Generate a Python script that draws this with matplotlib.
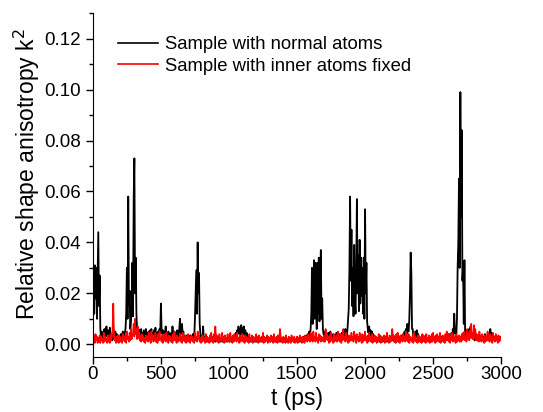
import numpy as np
import matplotlib
matplotlib.use("Agg")
import matplotlib.pyplot as plt
from matplotlib.ticker import MultipleLocator, FormatStrFormatter

# values in units of 1e-4, sampled every 5 ps from 0 to 3000 ps (one row = 100 ps)
normal_atoms = [
    50, 200, 120, 310, 180, 300, 100, 280, 440, 150, 270, 60, 30, 50, 20, 45, 30, 60, 25, 50,
    70, 30, 55, 20, 45, 65, 25, 40, 15, 35, 60, 20, 30, 50, 25, 40, 20, 35, 15, 30,
    25, 40, 15, 35, 50, 20, 30, 45, 60, 120, 300, 100, 580, 150, 210, 60, 90, 150, 320, 110,
    570, 730, 200, 340, 120, 60, 40, 60, 30, 55, 35, 60, 25, 45, 30, 55, 20, 40, 60, 30,
    45, 25, 50, 30, 55, 35, 60, 25, 45, 30, 55, 40, 65, 30, 45, 25, 50, 35, 60, 45,
    160, 60, 40, 55, 30, 50, 35, 70, 30, 45, 25, 50, 35, 40, 25, 45, 30, 70, 35, 40,
    50, 30, 45, 25, 55, 30, 45, 60, 100, 40, 60, 80, 35, 50, 20, 30, 15, 25, 35, 20,
    30, 15, 25, 35, 20, 30, 15, 40, 25, 30, 100, 200, 290, 120, 400, 200, 280, 80, 40, 20,
    30, 15, 70, 25, 20, 30, 15, 25, 10, 20, 15, 25, 10, 20, 15, 20, 10, 25, 15, 20,
    10, 20, 15, 25, 10, 20, 15, 10, 25, 15, 20, 10, 15, 25, 10, 20, 15, 10, 20, 15,
    20, 10, 25, 15, 20, 30, 15, 25, 35, 20, 45, 30, 55, 40, 70, 45, 60, 35, 75, 50,
    65, 40, 70, 35, 55, 30, 45, 20, 30, 15, 20, 10, 25, 15, 10, 20, 15, 10, 20, 15,
    10, 20, 15, 25, 10, 15, 20, 10, 15, 25, 10, 20, 15, 10, 20, 15, 25, 10, 15, 20,
    15, 10, 20, 15, 25, 10, 20, 15, 10, 20, 15, 25, 10, 15, 20, 10, 20, 15, 10, 25,
    15, 20, 10, 15, 25, 10, 20, 15, 10, 20, 15, 10, 25, 15, 20, 10, 15, 20, 10, 15,
    20, 15, 25, 10, 20, 15, 10, 25, 15, 20, 30, 15, 25, 20, 35, 25, 40, 30, 50, 35,
    60, 120, 300, 80, 220, 330, 100, 320, 150, 60, 320, 120, 340, 90, 250, 370, 100, 180, 60, 40,
    30, 50, 25, 40, 20, 35, 45, 25, 30, 50, 20, 35, 25, 40, 30, 20, 35, 25, 45, 30,
    20, 35, 25, 40, 30, 20, 45, 30, 25, 50, 35, 60, 40, 30, 55, 100, 140, 300, 580, 250,
    450, 150, 300, 110, 390, 180, 120, 300, 570, 200, 350, 130, 410, 160, 340, 190, 300, 120, 340, 100,
    530, 200, 320, 90, 60, 45, 70, 40, 55, 30, 50, 25, 40, 20, 30, 15, 25, 10, 20, 15,
    20, 10, 25, 15, 30, 20, 10, 25, 15, 20, 30, 15, 10, 20, 25, 15, 20, 10, 25, 15,
    20, 15, 30, 10, 25, 20, 15, 30, 20, 10, 25, 15, 30, 20, 35, 25, 40, 30, 50, 35,
    60, 40, 80, 50, 50, 100, 200, 360, 280, 60, 60, 30, 45, 25, 50, 30, 55, 35, 40, 25,
    30, 20, 15, 25, 10, 20, 30, 15, 25, 20, 10, 25, 15, 20, 30, 15, 20, 10, 25, 15,
    20, 30, 15, 25, 10, 20, 15, 30, 20, 10, 25, 15, 20, 30, 15, 25, 10, 20, 15, 30,
    20, 35, 25, 40, 20, 30, 25, 45, 30, 60, 40, 120, 50, 40, 30, 100, 300, 400, 650, 300,
    990, 500, 840, 250, 300, 80, 330, 40, 30, 50, 25, 40, 30, 60, 35, 70, 40, 25, 30, 20,
    25, 15, 30, 20, 35, 15, 25, 20, 30, 15, 20, 35, 25, 15, 30, 20, 40, 25, 30, 20,
    35, 20, 40, 25, 60, 30, 45, 25, 35, 20, 30, 15, 25, 20, 30, 15, 25, 20, 30, 20,
    25,
]

inner_fixed = [
    50, 10, 35, 5, 40, 15, 30, 5, 25, 10, 35, 5, 30, 15, 20, 5, 45, 10, 30, 15,
    20, 5, 35, 10, 25, 5, 40, 15, 30, 60, 160, 40, 15, 25, 5, 30, 10, 35, 5, 25,
    30, 10, 25, 5, 40, 15, 30, 10, 35, 5, 50, 20, 30, 10, 45, 15, 60, 20, 35, 45,
    80, 30, 100, 40, 60, 20, 70, 25, 45, 15, 35, 10, 40, 15, 30, 10, 25, 5, 35, 15,
    30, 10, 45, 15, 25, 5, 50, 20, 35, 10, 30, 15, 45, 10, 25, 5, 40, 15, 50, 20,
    25, 10, 35, 5, 40, 15, 30, 10, 45, 20, 25, 5, 35, 15, 30, 10, 20, 5, 40, 15,
    50, 15, 30, 5, 35, 10, 25, 15, 40, 10, 30, 5, 45, 15, 25, 10, 35, 5, 30, 10,
    40, 10, 25, 5, 35, 15, 30, 10, 20, 5, 45, 15, 30, 10, 50, 20, 35, 10, 25, 5,
    30, 10, 35, 15, 25, 5, 40, 10, 30, 15, 20, 5, 35, 10, 45, 15, 30, 5, 40, 15,
    70, 20, 35, 10, 30, 5, 40, 15, 25, 10, 45, 15, 30, 5, 35, 10, 25, 15, 40, 10,
    30, 10, 45, 15, 25, 5, 35, 10, 40, 20, 30, 10, 45, 15, 25, 5, 35, 10, 30, 15,
    40, 10, 25, 5, 35, 15, 30, 10, 20, 5, 40, 15, 25, 10, 35, 5, 30, 15, 25, 10,
    40, 15, 30, 5, 35, 10, 25, 15, 30, 10, 45, 5, 30, 10, 25, 15, 35, 5, 30, 10,
    25, 10, 35, 15, 30, 5, 40, 10, 25, 15, 30, 5, 35, 10, 25, 60, 30, 10, 25, 5,
    30, 10, 25, 5, 35, 15, 20, 5, 30, 10, 25, 5, 35, 15, 25, 10, 30, 5, 20, 10,
    30, 5, 25, 10, 35, 15, 20, 5, 30, 10, 25, 5, 35, 15, 30, 10, 40, 15, 30, 10,
    45, 15, 35, 10, 50, 20, 30, 10, 45, 15, 25, 5, 40, 15, 35, 10, 30, 15, 25, 10,
    35, 10, 60, 20, 40, 15, 30, 5, 35, 10, 45, 15, 25, 5, 40, 10, 30, 15, 35, 10,
    50, 15, 30, 10, 40, 5, 35, 15, 60, 20, 30, 10, 45, 15, 25, 5, 35, 10, 30, 15,
    45, 15, 30, 10, 50, 20, 35, 5, 40, 15, 30, 10, 45, 15, 25, 5, 40, 10, 35, 15,
    50, 15, 30, 5, 35, 10, 45, 15, 30, 10, 40, 5, 25, 10, 35, 15, 30, 5, 25, 10,
    40, 15, 35, 5, 30, 10, 25, 15, 35, 5, 30, 10, 45, 15, 25, 5, 35, 10, 30, 15,
    60, 20, 35, 10, 30, 5, 40, 15, 45, 10, 30, 5, 35, 15, 25, 10, 40, 15, 30, 10,
    50, 15, 35, 10, 40, 5, 30, 15, 25, 10, 35, 5, 45, 15, 30, 10, 25, 5, 35, 10,
    30, 10, 25, 5, 40, 15, 35, 10, 30, 5, 40, 15, 25, 10, 35, 5, 30, 15, 40, 10,
    45, 15, 30, 5, 35, 10, 40, 15, 30, 10, 45, 5, 25, 15, 35, 10, 30, 5, 40, 15,
    50, 15, 35, 10, 40, 5, 30, 15, 45, 10, 35, 15, 25, 5, 40, 10, 30, 15, 35, 10,
    30, 10, 40, 15, 45, 20, 50, 15, 30, 10, 60, 20, 45, 15, 55, 25, 80, 30, 45, 20,
    75, 25, 60, 20, 40, 15, 35, 10, 50, 20, 30, 10, 40, 15, 25, 5, 35, 10, 30, 15,
    50, 15, 35, 10, 40, 15, 30, 5, 45, 15, 30, 10, 40, 15, 25, 5, 35, 10, 30, 15,
    25,
]

labels = ["Sample with normal atoms", "Sample with inner atoms fixed"]
scale = 1e-4

plt.rcParams['font.family'] = ['Liberation Sans', 'DejaVu Sans']

yb = np.array(normal_atoms) * scale
yr = np.array(inner_fixed) * scale
tb = np.linspace(0, 3000, len(yb))
tr = np.linspace(0, 3000, len(yr))

fig = plt.figure(figsize=(5.43, 4.12), dpi=100)
ax = fig.add_axes([0.171, 0.1335, 0.752, 0.8345])
ax.plot(tb, yb, color='black', lw=1.3, label=labels[0])
ax.plot(tr, yr, color='red', lw=1.2, label=labels[1])

ax.set_xlim(0, 3000)
ax.set_ylim(-0.005, 0.13)
ax.xaxis.set_major_locator(MultipleLocator(500))
ax.xaxis.set_minor_locator(MultipleLocator(250))
ax.yaxis.set_minor_locator(MultipleLocator(0.01))
ax.set_yticks([0, 0.02, 0.04, 0.06, 0.08, 0.10, 0.12])
ax.yaxis.set_major_formatter(FormatStrFormatter('%.2f'))
ax.spines['top'].set_visible(False)
ax.spines['right'].set_visible(False)
ax.tick_params(which='major', direction='out', length=5, width=1, labelsize=13.5)
ax.tick_params(axis='x', which='major', pad=1.5)
ax.tick_params(which='minor', direction='out', length=3, width=1)
ax.set_xlabel('t (ps)', fontsize=16.5, labelpad=2.6)
ax.set_ylabel('Relative shape anisotropy k$^2$', fontsize=16.5)
ax.yaxis.set_label_coords(-0.125, 0.532)

leg = ax.legend(loc='upper left', bbox_to_anchor=(0.061, 0.933), frameon=False,
                borderpad=0, borderaxespad=0,
                fontsize=13.3, handlelength=2.2, handletextpad=0.35, labelspacing=0.25)
for line in leg.get_lines():
    line.set_linewidth(1.2)

fig.savefig('out.png', dpi=100)
